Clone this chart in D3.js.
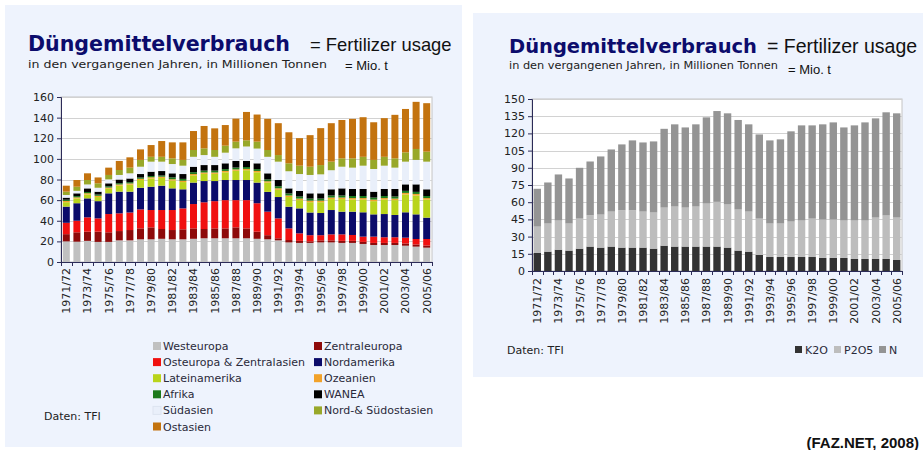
<!DOCTYPE html>
<html><head><meta charset="utf-8">
<script src="https://cdn.jsdelivr.net/npm/d3@7"></script>
<style>
body{margin:0;background:#fff}
svg{display:block}
</style>
</head><body>
<svg id="c" width="923" height="450" font-family="DejaVu Sans, Verdana, sans-serif"></svg>
<script>
// ---------- DATA ----------
const years = ["1971/72","1972/73","1973/74","1974/75","1975/76","1976/77","1977/78","1978/79","1979/80","1980/81",
  "1981/82","1982/83","1983/84","1984/85","1985/86","1986/87","1987/88","1988/89","1989/90","1990/91",
  "1991/92","1992/93","1993/94","1994/95","1995/96","1996/97","1997/98","1998/99","1999/00","2000/01",
  "2001/02","2002/03","2003/04","2004/05","2005/06"];
const yearLabels = ["1971/72","1973/74","1975/76","1977/78","1979/80","1981/82","1983/84","1985/86","1987/88",
  "1989/90","1991/92","1993/94","1995/96","1997/98","1999/00","2001/02","2003/04","2005/06"];

// Left chart: regions (Mio. t)
const regionNames = ["Westeuropa","Zentraleuropa","Osteuropa & Zentralasien","Nordamerika","Lateinamerika",
  "Ozeanien","Afrika","WANEA","Südasien","Nord-& Südostasien","Ostasien"];
const westeuropa = [20,19.7,20.5,19.5,19.5,21,21,22,22,22.5,22,22,22.5,23,23,23,23,23,22.5,22,21,19,18.5,18.5,19,19,18.5,18.5,17.5,16.5,16.5,16.5,15.8,14.9,13.9];
const zentraleuropa = [7,9.1,8.9,9.9,9.3,9,10,10.6,11.6,9.5,9,9.7,10.1,9,9.6,9.6,10.6,9.6,6.9,4,2,2.3,2,1.5,2,2,2,2,2,2,2,2,2.2,2.1,2.1];
const osteuropa = [11,11.2,13.9,12.9,17.7,17.2,17,18.4,16.8,18.4,19.4,20.3,23.6,25.9,26.4,27.4,26.4,27.4,27.6,22.8,19.3,11.3,7.3,6,5,5.8,6.3,5.7,5.1,6.1,5.5,5.5,5.6,5.3,6.3];
const nordamerika = [15.7,17,18.4,16.7,20.1,21,20.2,21,22.6,23.6,21,18.5,20.8,20.6,19.5,19.5,19.5,19.5,20,19.2,20.7,21,24.2,22,21.5,23.6,22,22.6,23.6,21.6,22.5,21.6,24.6,23.9,20.7];
const lateinamerika = [4.3,4.5,3.8,4,4.4,5.8,6.8,7.5,8,7.5,7.6,7,7,7,7,7.5,9,9.5,10,9,7,9.4,8,10,10.5,10.6,12.2,11.7,12.3,12.8,14,14.4,17.3,18.3,17.5];
const ozeanien = [1.2,1.2,1.2,1.2,1.2,1.2,1.2,1.2,1.2,1.2,1.3,1.3,1.3,1.3,1.3,1.3,1.3,1.3,1.3,1.3,1.5,1.5,1.5,1.5,1.5,1.5,1.5,1.5,1.5,1.5,1.5,1.5,1.5,1.5,1.5];
const afrika = [1.2,1.2,1.2,1.2,1.2,1.2,1.2,1.2,1.2,1.2,1.8,1.8,1.8,1.8,1.8,1.8,1.8,1.8,1.8,1.8,2,2,2,2,2,2,2,2,2,2,2,2,2,2,2];
const wanea = [2,2.7,3.5,2.8,2.9,3.6,3.6,3.4,4.2,4.3,3.9,4.7,5.3,5.4,5.4,5.6,6.4,5.9,5.6,5.9,6,4.9,5.5,5.1,5.1,6,6.9,6.8,6.8,5.7,6.8,7.3,6.3,7.3,6.5];
const suedasien = [2.6,2.4,3.8,3.8,3.8,4.4,5,7.1,9.7,9.1,9,8.1,9.6,9.7,8,10.3,12.2,14,14.3,16,17.8,16.6,16.3,17.8,18.4,18.5,21,20.7,22.6,22,22.6,20.7,22,23.7,26.8];
const suedostasien = [3.2,4,4.3,4.3,4.3,4.8,5.5,6.6,4.7,4.7,5.5,5.6,6.6,6.5,6.6,6.8,6.5,6,6.7,6.6,6.4,7.7,8.1,8,9,8.3,8.1,9,8.6,8.8,8.6,9,9,10.6,9.7];
const ostasien = [5.8,6.5,6.5,5.7,7.1,8.8,10,10.2,11.4,15.3,15.5,17,18.4,21.7,21,20,22.3,27.5,26.3,30.2,30.9,30.1,26.7,30.6,35.8,37.3,37.2,38.3,38.4,36.5,37.5,42.2,42.1,45.7,47];
const regionColors = ["#c0c0c0","#8e0a0a","#f01010","#0b0b6a","#b9d41c","#f2a22a","#1c7a1c","#000000","#e9effa","#98a82a","#c3730f"];
const leftTicks = [0,20,40,60,80,100,120,140,160];

// Right chart: nutrients (Mio. t)
const nutrientNames = ["K2O","P2O5","N"];
const k2o = [15.7,16.9,18.6,17.8,19.5,21.3,20.4,21.3,20.4,20.4,20.4,19.5,22.1,21.3,21.3,21.3,21.3,21.3,20.4,17.8,16.9,14,12.2,12.2,12.2,12.2,12.2,11.4,11.4,11.4,10.5,10.5,10.5,10.5,9.6];
const p2o5 = [23,24.5,25.4,23.6,26.2,27.3,28.8,30.5,32.6,32.6,31.4,31.5,33.2,34.9,34,34.9,37.5,39,37.6,35.8,34.9,31.7,29.2,29.2,30.9,31.8,33.5,33.5,33.5,32.6,33.5,33.5,36.1,37.9,37];
const nitrogen = [33,35.8,40.2,39.3,44.3,46.9,50.7,54.2,57.4,60.9,60.3,62,68.7,71.7,69.9,71.7,75.2,79.2,79.5,78.1,76.1,73.4,72.5,73.4,78.7,83,81.3,83,84.7,81.2,83,85.6,86.5,90,90.9];
const nutrientColors = ["#333333","#bdbdbd","#949494"];
const rightTicks = [0,15,30,45,60,75,90,105,120,135,150];

// ---------- DRAW ----------
const svg = d3.select("#c");
const panelBg = "#eef3fd";
const verdana = "DejaVu Sans, Verdana, sans-serif";
const arial = "Liberation Sans, Arial, sans-serif";
svg.append("rect").attr("x",5).attr("y",5).attr("width",457).attr("height",442).attr("fill",panelBg);
svg.append("rect").attr("x",473).attr("y",13).attr("width",450).attr("height",364).attr("fill",panelBg);

function drawChart(cfg){
  const g = svg.append("g");
  const x = d3.scaleBand().domain(years).range([cfg.x0,cfg.x1]).paddingInner(cfg.pad).paddingOuter(cfg.pad/2);
  const y = d3.scaleLinear().domain([0,cfg.max]).range([cfg.y0,cfg.yTop]);
  // plot area
  g.append("rect").attr("x",cfg.x0).attr("y",cfg.yTop).attr("width",cfg.x1-cfg.x0).attr("height",cfg.y0-cfg.yTop)
    .attr("fill","#fff").attr("stroke","#c4c4c4").attr("stroke-width",1);
  // grid
  g.append("g").selectAll("line").data(cfg.ticks.slice(1)).join("line")
    .attr("x1",cfg.x0).attr("x2",cfg.x1).attr("y1",d=>Math.round(y(d))+0.5).attr("y2",d=>Math.round(y(d))+0.5)
    .attr("stroke","#d2d2d2");
  // bars
  const table = years.map((yr,i)=>{const o={year:yr}; cfg.keys.forEach((k,j)=>o[k]=cfg.series[j][i]); return o;});
  const stacked = d3.stack().keys(cfg.keys)(table);
  g.append("g").selectAll("g").data(stacked).join("g").attr("fill",(d,i)=>cfg.colors[i])
    .selectAll("rect").data(d=>d).join("rect")
    .attr("x",d=>x(d.data.year)).attr("width",x.bandwidth())
    .attr("y",d=>y(d[1])).attr("height",d=>y(d[0])-y(d[1]));
  // y axis
  const ya = g.append("g").attr("transform",`translate(${cfg.x0},0)`)
    .call(d3.axisLeft(y).tickValues(cfg.ticks).tickSize(4).tickPadding(3).tickFormat(d3.format("d")));
  ya.attr("font-family",verdana);
  ya.select(".domain").attr("stroke","#2c2c58");
  ya.selectAll(".tick line").attr("stroke","#2c2c58");
  ya.selectAll("text").attr("font-size",11).attr("fill","#222");
  // x axis
  const xa = g.append("g").attr("transform",`translate(0,${cfg.y0})`)
    .call(d3.axisBottom(x).tickValues(yearLabels).tickSize(0).tickPadding(0));
  xa.attr("font-family",verdana);
  xa.select(".domain").attr("stroke","#2c2c58");
  xa.selectAll("text").attr("font-size",11).attr("fill","#222")
    .attr("text-anchor","end").attr("transform","rotate(-90)").attr("x",-cfg.labOff).attr("y",0).attr("dy","0.36em");
  // band-edge ticks
  const step = x.step();
  g.append("g").selectAll("line").data(years).join("line")
    .attr("x1",d=>Math.round(x(d)+x.bandwidth()+ (step-x.bandwidth())/2)+0.5)
    .attr("x2",d=>Math.round(x(d)+x.bandwidth()+ (step-x.bandwidth())/2)+0.5)
    .attr("y1",cfg.y0).attr("y2",cfg.y0+4).attr("stroke","#2c2c58");
  g.append("line").attr("x1",cfg.x0+0.5).attr("x2",cfg.x0+0.5).attr("y1",cfg.y0).attr("y2",cfg.y0+4).attr("stroke","#2c2c58");
}

drawChart({x0:61,x1:432,y0:262,yTop:97,max:160,ticks:leftTicks,pad:0.34,labOff:6,
  keys:regionNames,colors:regionColors,
  series:[westeuropa,zentraleuropa,osteuropa,nordamerika,lateinamerika,ozeanien,afrika,wanea,suedasien,suedostasien,ostasien]});
drawChart({x0:532,x1:902,y0:271,yTop:99,max:150,ticks:rightTicks,pad:0.3,labOff:7,
  keys:nutrientNames,colors:nutrientColors,series:[k2o,p2o5,nitrogen]});

// ---------- TEXT ----------
function txt(x,y,s,opt){
  const t = svg.append("text").attr("x",x).attr("y",y).text(s)
    .attr("font-size",opt.size).attr("fill",opt.fill||"#222")
    .attr("font-family",opt.family||verdana);
  if(opt.bold) t.attr("font-weight","bold");
  if(opt.len) t.attr("textLength",opt.len).attr("lengthAdjust","spacingAndGlyphs");
  if(opt.anchor) t.attr("text-anchor",opt.anchor);
  return t;
}
// left header
txt(28,51,"Düngemittelverbrauch",{size:20.5,bold:true,fill:"#0c0c6c",len:262});
txt(310,51,"= Fertilizer usage",{size:18.4,family:arial,fill:"#111"});
txt(28,68,"in den vergangenen Jahren, in Millionen Tonnen",{size:11,fill:"#222",len:299});
txt(345,70,"= Mio. t",{size:13,family:arial,fill:"#111"});
// right header
txt(509,53,"Düngemittelverbrauch",{size:19.5,bold:true,fill:"#0c0c6c",len:248});
txt(767,53,"= Fertilizer usage",{size:19.5,family:arial,fill:"#111"});
txt(509,69,"in den vergangenen Jahren, in Millionen Tonnen",{size:10,fill:"#222",len:269});
txt(788,74,"= Mio. t",{size:13,family:arial,fill:"#111"});

// left legend
const lg = svg.append("g");
regionNames.forEach((n,i)=>{
  const col = i%2, row = Math.floor(i/2);
  const cx = col===0?153:314, cy = 346 + row*16.1;
  lg.append("rect").attr("x",cx).attr("y",cy-4).attr("width",8).attr("height",8).attr("fill",regionColors[i])
    .attr("stroke", i===8?"#dde4f0":"none");
  lg.append("text").attr("x",cx+10).attr("y",cy+4).attr("font-size",11).attr("font-family",verdana)
    .attr("fill","#2a2a3a").text(n);
});
txt(44,420,"Daten: TFI",{size:11,fill:"#222"});

// right legend
const rl = [{x:795},{x:834},{x:879}];
nutrientNames.forEach((n,i)=>{
  svg.append("rect").attr("x",rl[i].x).attr("y",346).attr("width",7).attr("height",7).attr("fill",nutrientColors[i]);
  svg.append("text").attr("x",rl[i].x+10).attr("y",354).attr("font-size",11).attr("font-family",verdana)
    .attr("fill","#2a2a3a").text(n);
});
txt(507,354,"Daten: TFI",{size:11,fill:"#222"});

txt(919,448,"(FAZ.NET, 2008)",{size:15,bold:true,family:arial,fill:"#111",anchor:"end"});
</script>
</body></html>
